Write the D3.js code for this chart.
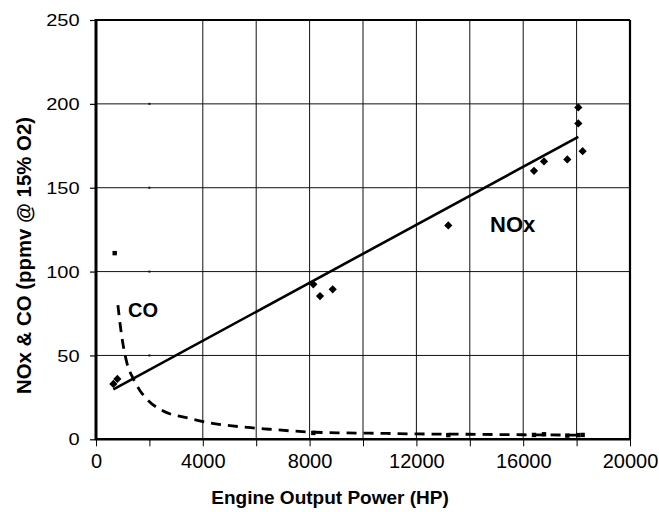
<!DOCTYPE html>
<html>
<head>
<meta charset="utf-8">
<script src="https://cdn.jsdelivr.net/npm/d3@7/dist/d3.min.js"></script>
<style>
  html, body { margin: 0; padding: 0; background: #fff; }
  svg { display: block; }
  text { font-family: "Liberation Sans", Arial, Helvetica, sans-serif; fill: #000; }
</style>
</head>
<body>
<svg id="chart" width="659" height="512"></svg>
<script>
// ---- data ----
const xTickValues = [0, 4000, 8000, 12000, 16000, 20000];
const xMinorTicks = [0, 2000, 4000, 6000, 8000, 10000, 12000, 14000, 16000, 18000, 20000];
const xGridValues = [4000, 6000, 8000, 10000, 12000, 14000, 16000, 18000];
const yTickValues = [0, 50, 100, 150, 200, 250];

const noxHP  = [650, 800, 8140, 8390, 8865, 13194, 16404, 16779, 17652, 18064, 18064, 18226];
const noxPPM = [33, 36, 92.4, 85.4, 89.4, 127.5, 160.1, 165.7, 166.9, 197.9, 188.3, 171.8];

const noxFitHP  = [650, 18064];
const noxFitPPM = [29.8, 180.3];

const coHP  = [700, 8140, 13194, 16404, 16779, 17652, 18064, 18226];
const coPPM = [111, 3.8, 2.5, 2.6, 3.0, 2.2, 2.5, 2.6];

const coFitHP  = [820, 950, 1150, 1400, 1650, 1900, 2500, 3500, 4300, 5100, 5800, 6500, 7300, 8200, 9400, 10900, 12000, 14000, 16000, 18200];
const coFitPPM = [80, 63, 46, 36, 29, 24, 17, 12.5, 9.6, 8.0, 6.9, 6.0, 5.0, 4.2, 3.8, 3.5, 3.2, 3.0, 2.7, 2.5];

// ---- chart ----
const svg = d3.select("#chart");
const x = d3.scaleLinear().domain([0, 20000]).range([96, 630]);
const y = d3.scaleLinear().domain([0, 250]).range([439.3, 20]);

// vertical grid lines
svg.append("g").selectAll("line").data(xGridValues).join("line")
  .attr("x1", d => x(d)).attr("x2", d => x(d))
  .attr("y1", y(250)).attr("y2", y(0))
  .attr("stroke", "#111").attr("stroke-width", 1);

// horizontal grid lines
svg.append("g").selectAll("line").data(yTickValues.filter(v => v > 0)).join("line")
  .attr("x1", x(0)).attr("x2", x(20000))
  .attr("y1", d => y(d)).attr("y2", d => y(d))
  .attr("stroke", "#111").attr("stroke-width", 1);

// small dots where the missing 2000 grid line would cross
svg.append("g").selectAll("rect").data(yTickValues).join("rect")
  .attr("x", x(2000) - 1).attr("y", d => y(d) - 1)
  .attr("width", 2).attr("height", 2).attr("fill", "#111");

// frame: top and right
svg.append("line").attr("x1", x(0)).attr("x2", x(20000)).attr("y1", y(250)).attr("y2", y(250))
  .attr("stroke", "#000").attr("stroke-width", 1.8);
svg.append("line").attr("x1", x(20000)).attr("x2", x(20000)).attr("y1", y(250)).attr("y2", y(0))
  .attr("stroke", "#000").attr("stroke-width", 2.2);

// x axis
const xAxisMinor = d3.axisBottom(x).tickValues(xMinorTicks).tickSize(7).tickFormat("");
const gxm = svg.append("g").attr("transform", `translate(0,${y(0)})`).call(xAxisMinor);
gxm.select(".domain").remove();
gxm.selectAll(".tick line").attr("stroke", "#000").attr("stroke-width", 1);

const xAxis = d3.axisBottom(x).tickValues(xTickValues).tickSize(0).tickPadding(14)
  .tickFormat(d3.format("d"));
const gx = svg.append("g").attr("transform", `translate(0,${y(0)})`).call(xAxis);
gx.select(".domain").remove();
gx.selectAll(".tick text").attr("font-size", 20).attr("font-family", '"Liberation Sans", Arial, sans-serif')
  .attr("fill", "#000").attr("dy", "0.75em");

// y axis
const yAxis = d3.axisLeft(y).tickValues(yTickValues).tickSize(6).tickPadding(0).tickFormat("");
const gy = svg.append("g").attr("transform", `translate(${x(0)},0)`).call(yAxis);
gy.select(".domain").remove();
gy.selectAll(".tick line").attr("stroke", "#000").attr("stroke-width", 1.2);
svg.append("g").selectAll("text").data(yTickValues).join("text")
  .attr("text-anchor", "end")
  .attr("font-size", 20)
  .attr("transform", d => `translate(79.5,${y(d) + 6.1}) scale(1,0.86)`)
  .text(d => d);

// axis lines
svg.append("line").attr("x1", x(0)).attr("x2", x(0)).attr("y1", y(250) - 1).attr("y2", y(0) + 1)
  .attr("stroke", "#000").attr("stroke-width", 3);
svg.append("line").attr("x1", x(0)).attr("x2", x(20000) + 1).attr("y1", y(0)).attr("y2", y(0))
  .attr("stroke", "#000").attr("stroke-width", 2.6);

// NOx fit line
const noxFit = noxFitHP.map((v, i) => [v, noxFitPPM[i]]);
svg.append("path").datum(noxFit)
  .attr("d", d3.line().x(d => x(d[0])).y(d => y(d[1])))
  .attr("fill", "none").attr("stroke", "#000").attr("stroke-width", 2.6);

// CO fit curve
const coFit = coFitHP.map((v, i) => [v, coFitPPM[i]]);
svg.append("path").datum(coFit)
  .attr("d", d3.line().curve(d3.curveMonotoneX).x(d => x(d[0])).y(d => y(d[1])))
  .attr("fill", "none").attr("stroke", "#000").attr("stroke-width", 2.8)
  .attr("stroke-dasharray", "10,7");

// NOx markers
const nox = noxHP.map((v, i) => [v, noxPPM[i]]);
svg.append("g").selectAll("path").data(nox).join("path")
  .attr("d", d3.symbol(d3.symbolSquare, 34)())
  .attr("transform", d => `translate(${x(d[0])},${y(d[1])}) rotate(45)`)
  .attr("fill", "#000");

// CO markers
const co = coHP.map((v, i) => [v, coPPM[i]]);
svg.append("g").selectAll("rect").data(co).join("rect")
  .attr("x", d => x(d[0]) - 2.2).attr("y", d => y(d[1]) - 2.2)
  .attr("width", 4.4).attr("height", 4.4).attr("fill", "#000");

// labels
svg.append("text").attr("x", 490).attr("y", 232).attr("font-size", 22).attr("font-weight", "bold").text("NOx");
svg.append("text").attr("x", 128).attr("y", 317).attr("font-size", 20).attr("font-weight", "bold").text("CO");

svg.append("text").attr("x", 330).attr("y", 504).attr("text-anchor", "middle")
  .attr("font-size", 19).attr("font-weight", "bold").text("Engine Output Power (HP)");

svg.append("text").attr("transform", "translate(30.5,255.5) rotate(-90)").attr("text-anchor", "middle")
  .attr("font-size", 20.4).attr("font-weight", "bold").text("NOx & CO (ppmv @ 15% O2)");
</script>
</body>
</html>
